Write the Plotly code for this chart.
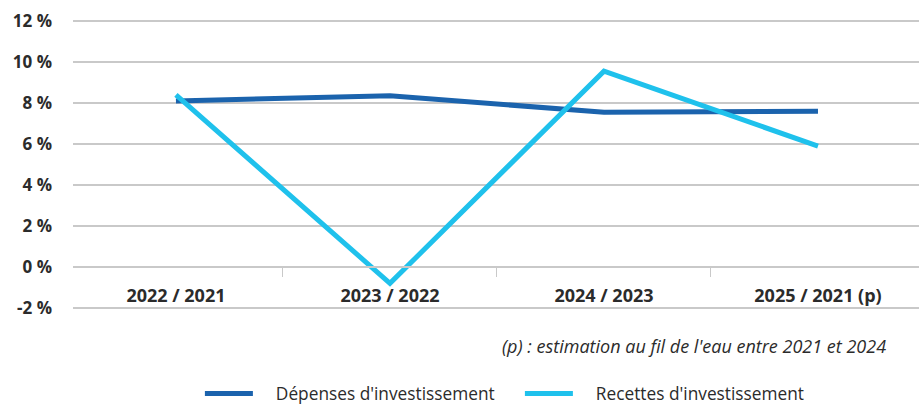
import plotly.graph_objects as go

categories = ["2022 / 2021", "2023 / 2022", "2024 / 2023", "2025 / 2021 (p)"]
depenses = [8.1, 8.35, 7.55, 7.6]
recettes = [8.4, -0.8, 9.55, 5.9]
y_ticks = [-2, 0, 2, 4, 6, 8, 10, 12]
y_labels = [f"{v} %" for v in y_ticks]

FONT = "Open Sans, Roboto, sans-serif"
TXT = "#2b2b2b"
GRID = "#c9c9c9"
GAP = "\u00a0" * 4  # room between legend line and its text

fig = go.Figure()
fig.add_trace(go.Scatter(x=categories, y=depenses, mode="lines",
                         name=GAP + "Dépenses d'investissement",
                         line=dict(color="#1b63ad", width=5)))
fig.add_trace(go.Scatter(x=categories, y=recettes, mode="lines",
                         name=GAP + "Recettes d'investissement",
                         line=dict(color="#1fc1ec", width=5)))

fig.add_annotation(text="<i>(p) : estimation au fil de l'eau entre 2021 et 2024</i>",
                   xref="paper", yref="paper", x=0.963, y=-0.128,
                   xanchor="right", yanchor="middle", showarrow=False,
                   font=dict(size=18, color=TXT, family=FONT))

fig.update_layout(
    width=919, height=405,
    margin=dict(l=73, r=0, t=20, b=96),
    plot_bgcolor="white", paper_bgcolor="white",
    font=dict(family=FONT, color=TXT, size=17),
    showlegend=True,
    legend=dict(orientation="h", xref="paper", x=0.150, xanchor="left",
                yref="container", y=0.028, yanchor="middle",
                font=dict(size=17.3, color=TXT), itemwidth=48, entrywidth=257),
    xaxis=dict(
        type="category", range=[-0.481, 3.472], automargin=False,
        anchor="free", position=2.05 / 14.1,
        showgrid=False, showline=True, linecolor=GRID, linewidth=2,
        ticks="outside", tickson="boundaries", ticklen=9, tickcolor=GRID, tickwidth=1,
        ticklabelstandoff=12,
        tickfont=dict(size=18, color=TXT, family=FONT, weight="bold"),
    ),
    yaxis=dict(
        range=[-2.05, 12.05], tickmode="array", tickvals=y_ticks, ticktext=y_labels,
        automargin=False,
        showgrid=True, gridcolor=GRID, gridwidth=2,
        zeroline=False, showline=False, ticks="",
        ticklabelstandoff=20,
        tickfont=dict(size=17, color=TXT, family=FONT, weight="bold"),
    ),
)

fig.write_html("out.html", config={"displayModeBar": False},
               post_script="document.body.style.margin = '0';")
